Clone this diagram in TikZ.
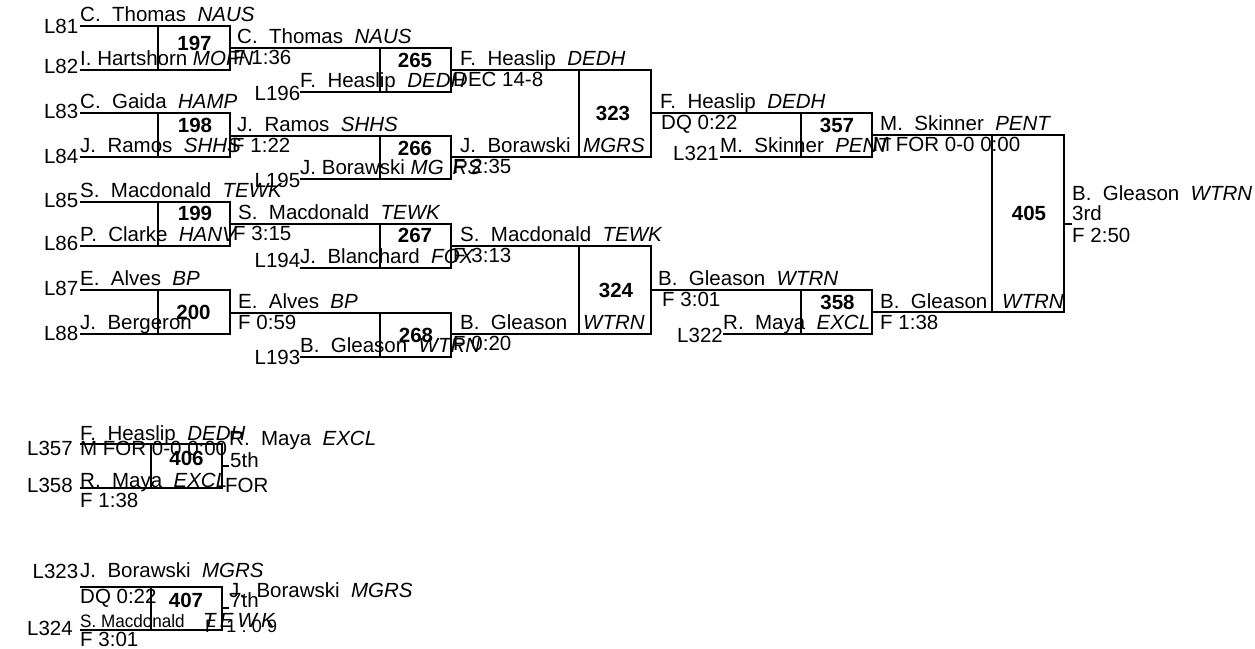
\documentclass[tikz,border=0pt]{standalone}
\usepackage{fontspec}
\setmainfont{Liberation Sans}
\newcommand{\bktfont}{\fontsize{20.5}{24}\selectfont}
\tikzset{
	bracket/.style={line width=1.2pt},
	entry/.style={anchor=base west,inner sep=0pt,font=\bktfont},
	lbl/.style={anchor=base east,inner sep=0pt,font=\bktfont},
	boutnum/.style={anchor=center,inner sep=0pt,font=\bktfont\bfseries},
}

\begin{document}
\begin{tikzpicture}[x=1pt,y=-1pt]
	\useasboundingbox (0,0) rectangle (1255,648);

	% bouts: top start/bottom start/divider/right/top/bottom
	\foreach \m/\xa/\xb/\xd/\xr/\yt/\yb in {197/80/80/158/230/26/70, 198/80/80/158/230/113/157, 199/80/80/158/230/202/246, 200/80/80/158/230/290/334, 265/230/300/380/451/48/92, 266/230/300/380/451/136/179, 267/230/300/380/451/224/268, 268/230/300/380/451/313/357, 323/451/451/579/651/70/157, 324/451/451/579/651/246/334, 357/651/720/801/872/113/157, 358/651/723/801/872/290/334, 405/872/872/992/1064/135/312, 406/80/80/151/222/444/488, 407/80/80/151/222/587/630}{
		\draw[bracket] (\xa,\yt) -- (\xr,\yt) -- (\xr,\yb) -- (\xb,\yb);
		\draw[bracket] (\xd,\yt) -- (\xd,\yb);
	}
	\draw[bracket] (1064,224) -- (1072,224);
	\draw[bracket] (222,466) -- (229,466);
	\draw[bracket] (222,608) -- (229,608);

	\foreach \m/\x/\y in {197/194.5/43.5, 198/195/125.5, 199/195/213.5, 200/193.5/312.5, 265/415/60, 266/415/148.5, 267/415/235, 268/416/335.5, 323/613/113.5, 324/616/290.5, 357/837/125.5, 358/837.5/302.5, 405/1029/213.5, 406/186.5/458.5, 407/186/600}{
		\node[boutnum] (b\m) at (\x,\y) {\m};
	}

	% lines
	\foreach \x/\y/\t in {78.5/33/81, 78.5/73/82, 78.5/118/83, 78.5/163/84, 78.5/207/85, 78.5/250/86, 78.5/295/87, 78.5/340/88, 300.5/100/196, 300.5/187/195, 300.5/267/194, 300.5/364/193, 719/160/321, 723/342/322, 73/455/357, 73/492/358, 78.5/578/323, 73/635/324}{
		\node[lbl] (L\t) at (\x,\y) {L\t};
	}

	% wrestlers above the lines
	\foreach \x/\y/\t [count=\i] in {80/26/{C.~~Thomas~~\textit{NAUS}}, 80/70/{I. Hartshorn \textit{MOFN}}, 80/113/{C.~~Gaida~~\textit{HAMP}}, 80/157/{J.~~Ramos~~\textit{SHHS}}, 80/202/{S.~~Macdonald~~\textit{TEWK}}, 80/246/{P.~~Clarke~~\textit{HANV}}, 80/290/{E.~~Alves~~\textit{BP}}, 80/334/{J.~~Bergeron}, 237/48/{C.~~Thomas~~\textit{NAUS}}, 237/136/{J.~~Ramos~~\textit{SHHS}}, 238/224/{S.~~Macdonald~~\textit{TEWK}}, 238/313/{E.~~Alves~~\textit{BP}}, 300/92/{F.~~Heaslip~~\textit{DEDH}}, 300/179/{J. Borawski \textit{MG\kern9pt RS}}, 300/268/{J.~~Blanchard~~\textit{FOX}}, 300/357/{B.~~Gleason~~\textit{WTRN}}, 460/70/{F.~~Heaslip~~\textit{DEDH}}, 460/157/{J.~~Borawski}, 583/157/{\textit{MGRS}}, 460/246/{S.~~Macdonald~~\textit{TEWK}}, 460/334/{B.~~Gleason}, 583/334/{\textit{WTRN}}, 660/113/{F.~~Heaslip~~\textit{DEDH}}, 658/290/{B.~~Gleason~~\textit{WTRN}}, 720/157/{M.~~Skinner~~\textit{PENT}}, 723/334/{R.~~Maya~~\textit{EXCL}}, 880/135/{M.~~Skinner~~\textit{PENT}}, 880/313/{B.~~Gleason}, 1002/313/{\textit{WTRN}}}{
		\node[entry] (w\i) at (\x,{\y-4.5}) {\t};
	}

	% results below the lines
	\foreach \x/\y/\t [count=\i] in {233/48/F 1:36, 232/136/F 1:22, 233/224/F 3:15, 238/313/F 0:59, 453/70/DEC 14-8, 453/157/F 2:35, 453/246/F 3:13, 453/334/F 0:20, 661/113/DQ 0:22, 662/290/F 3:01, 873/135/M FOR 0-0 0:00, 880/313/F 1:38}{
		\node[entry] (r\i) at (\x,{\y+16}) {\t};
	}

	\node[entry] (p405) at (1072,200) {B.~~Gleason~~\textit{WTRN}};
	\node[entry] (k405) at (1072,220) {3rd};
	\node[entry] (f405) at (1072,242) {F 2:50};

	\node[entry] (a406) at (80,440) {F.~~Heaslip~~\textit{DEDH}};
	\node[entry] (c406) at (80,455) {M FOR 0-0 0:00};
	\node[entry] (d406) at (80,487) {R.~~Maya~~\textit{EXCL}};
	\node[entry] (e406) at (80,507) {F 1:38};
	\node[entry] (p406) at (229,445) {R.~~Maya~~\textit{EXCL}};
	\node[entry] (k406) at (230,467) {5th};
	\node[entry] (f406) at (225,492) {FOR};

	\node[entry] (a407) at (80,577) {J.~~Borawski~~\textit{MGRS}};
	\node[entry] (c407) at (80,603) {DQ 0:22};
	\node[entry] (d407) at (80,627) {\scalebox{0.95}[1]{\fontsize{18}{20}\selectfont S. Macdonald}};
	\node[entry] (t407) at (203,627) {\textit{\addfontfeature{LetterSpace=20}TEWK}};
	\node[entry] (e407) at (80,646) {F 3:01};
	\node[entry] (p407) at (229,597) {J.~~Borawski~~\textit{MGRS}};
	\node[entry] (k407) at (230,607) {7th};
	\node[entry] (f407) at (205,632) {\fontsize{18}{20}\selectfont\addfontfeature{LetterSpace=29}F 1:09};
\end{tikzpicture}
\end{document}
